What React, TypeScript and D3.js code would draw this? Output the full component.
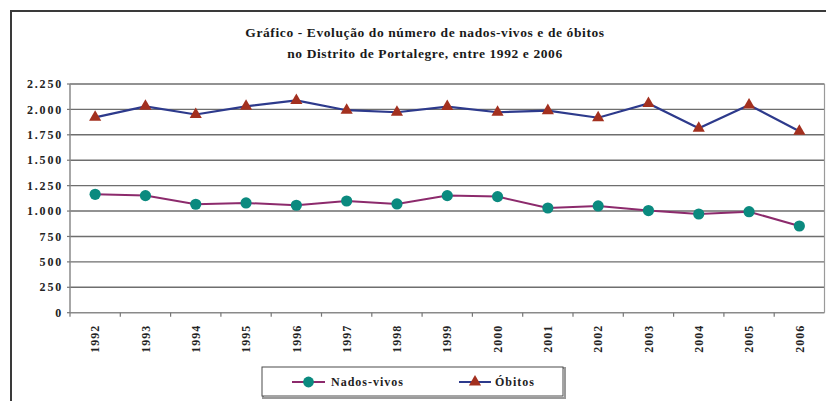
import React from "react";
import * as d3 from "d3";

// Data
const years = ["1992", "1993", "1994", "1995", "1996", "1997", "1998", "1999", "2000", "2001", "2002", "2003", "2004", "2005", "2006"];
const nadosVivos = [1165, 1152, 1067, 1080, 1057, 1099, 1070, 1152, 1142, 1030, 1050, 1005, 971, 994, 853];
const obitos = [1922, 2030, 1950, 2030, 2088, 1992, 1972, 2028, 1972, 1988, 1918, 2058, 1815, 2044, 1785];
const yTicks = [0, 250, 500, 750, 1000, 1250, 1500, 1750, 2000, 2250];
const titleLines = ["Gráfico - Evolução do número de nados-vivos e de óbitos", "no Distrito de Portalegre, entre 1992 e 2006"];

const W = 826;
const H = 401;
const margin = { left: 70, right: 1.5, top: 84, bottom: 88.3 };

const NV_LINE = "#8c2a6c";
const NV_MARK = "#0b8a7f";
const OB_LINE = "#2d3a8c";
const OB_MARK = "#a3301f";
const GRID = "#6e6e6e";
const FONT = "'Liberation Serif', 'Times New Roman', serif";

const fmt = (v: number) => d3.format(",")(v).replace(/,/g, ".");

export default function App() {
  const x = d3.scaleBand<string>().domain(years).range([margin.left, W - margin.right]);
  const y = d3.scaleLinear().domain([0, 2250]).range([H - margin.bottom, margin.top]);
  const cx = (d: string) => (x(d) as number) + x.bandwidth() / 2;

  const line = d3.line<number>().x((_, i) => cx(years[i])).y(d => y(d));
  const tri = d3.symbol().type(d3.symbolTriangle).size(64)();

  const x0 = margin.left;
  const x1 = W - margin.right;
  const y0 = y(0);

  return (
    <svg width={W} height={H} style={{ position: "absolute", left: 0, top: 0, background: "#fff" }} fontFamily={FONT}>
      {/* outer chart frame (cropped at right and bottom) */}
      <rect x={11} y={11} width={W + 10} height={H + 10} fill="#fff" stroke="#3a3a3a" strokeWidth={2} />

      {/* title */}
      <g fontWeight="bold" fontSize={13.5} fill="#1a1a1a" textAnchor="middle">
        {titleLines.map((t, i) => (
          <text key={i} x={425} y={37 + i * 21} letterSpacing={0.6}>{t}</text>
        ))}
      </g>

      {/* gridlines */}
      {yTicks.filter(t => t > 0).map(t => (
        <line key={t} x1={x0} x2={x1} y1={y(t)} y2={y(t)} stroke={GRID} strokeWidth={1.4} />
      ))}
      <line x1={x1} x2={x1} y1={y(2250)} y2={y0} stroke="#9a9a9a" strokeWidth={1.2} />

      {/* axes */}
      <line x1={x0} x2={x0} y1={y(2250)} y2={y0} stroke="#8a8a8a" strokeWidth={1.5} />
      <line x1={x0} x2={x1} y1={y0} y2={y0} stroke="#8a8a8a" strokeWidth={1.5} />
      {yTicks.map(t => (
        <g key={t}>
          <line x1={x0 - 3} x2={x0} y1={y(t)} y2={y(t)} stroke="#777" strokeWidth={1.2} />
          <text x={x0 - 7} y={y(t)} dy="0.35em" textAnchor="end" fontSize={12} fontWeight="bold" letterSpacing={1.8} fill="#222">
            {fmt(t)}
          </text>
        </g>
      ))}
      {years.map((yr, i) => (
        <g key={yr}>
          <line x1={x(yr) as number} x2={x(yr) as number} y1={y0} y2={y0 + 4} stroke="#777" strokeWidth={1.2} />
          <text
            transform={`translate(${cx(yr)},${y0 + 12}) rotate(-90)`}
            dy="0.35em"
            textAnchor="end"
            fontSize={12}
            fontWeight="bold"
            letterSpacing={1}
            fill="#222"
          >
            {yr}
          </text>
        </g>
      ))}

      {/* series lines */}
      <path d={line(obitos) || ""} fill="none" stroke={OB_LINE} strokeWidth={2.2} />
      <path d={line(nadosVivos) || ""} fill="none" stroke={NV_LINE} strokeWidth={2} />

      {/* markers */}
      {obitos.map((v, i) => (
        <path key={"o" + i} d={tri || ""} transform={`translate(${cx(years[i])},${y(v)})`} fill={OB_MARK} />
      ))}
      {nadosVivos.map((v, i) => (
        <circle key={"n" + i} cx={cx(years[i])} cy={y(v)} r={5.6} fill={NV_MARK} />
      ))}

      {/* legend */}
      <g>
        <rect x={263} y={368} width={302} height={30} fill="#fff" stroke="#9a9a9a" strokeWidth={2} />
        <rect x={262} y={367} width={301} height={29} fill="#fff" stroke="#4a4a4a" strokeWidth={1} />
        <line x1={292} x2={325} y1={382} y2={382} stroke={NV_LINE} strokeWidth={2} />
        <circle cx={308.5} cy={382} r={5.4} fill={NV_MARK} />
        <text x={331} y={382} dy="0.35em" fontSize={12} fontWeight="bold" letterSpacing={1} fill="#222">Nados-vivos</text>
        <line x1={459} x2={491} y1={382} y2={382} stroke={OB_LINE} strokeWidth={2} />
        <path d={tri || ""} transform="translate(475,382)" fill={OB_MARK} />
        <text x={495} y={382} dy="0.35em" fontSize={12} fontWeight="bold" letterSpacing={1} fill="#222">Óbitos</text>
      </g>
    </svg>
  );
}
